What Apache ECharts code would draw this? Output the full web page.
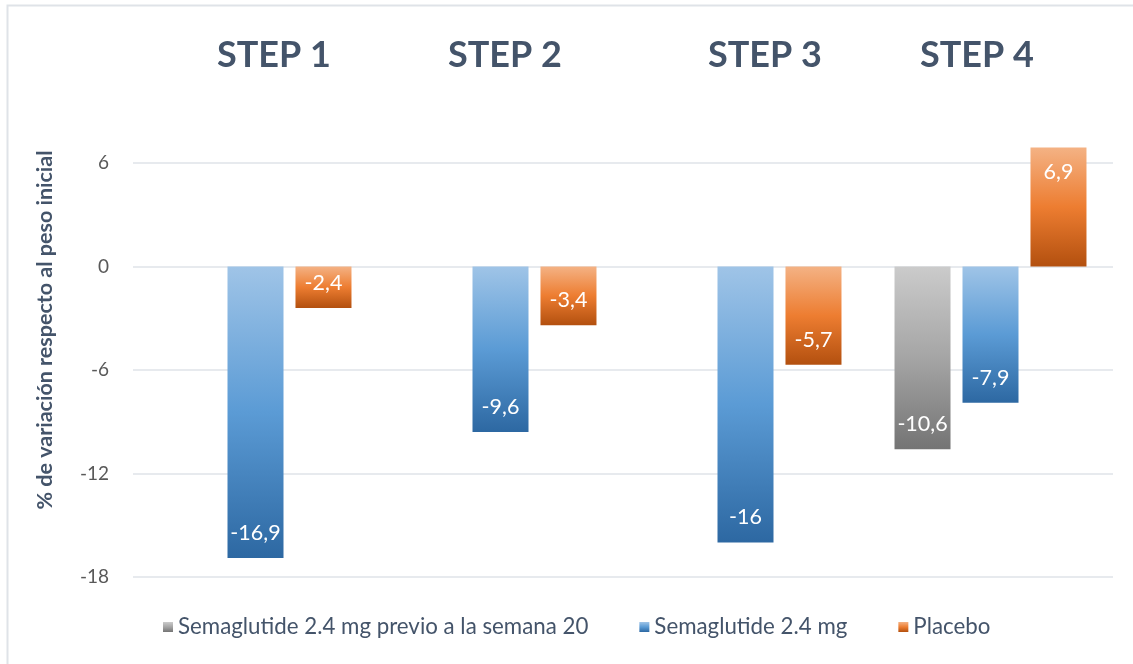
<!DOCTYPE html>
<html><head><meta charset="utf-8">
<script src="https://cdn.jsdelivr.net/npm/echarts@6/dist/echarts.min.js"></script>
<style>html,body{margin:0;padding:0;background:#fff}#c{width:1133px;height:664px}</style>
</head><body><div id="c"></div>
<script>
const categories = ['STEP 1', 'STEP 2', 'STEP 3', 'STEP 4'];
const seriesNames = ['Semaglutide 2.4 mg previo a la semana 20', 'Semaglutide 2.4 mg', 'Placebo'];
const grayValues = [null, null, null, -10.6];
const blueValues = [-16.9, -9.6, -16, -7.9];
const orangeValues = [-2.4, -3.4, -5.7, 6.9];
const yTicks = [-18, -12, -6, 0, 6];
const yAxisTitle = '% de variación respecto al peso inicial';

const FONT = 'Lato, "Liberation Sans", sans-serif';
function grad(stops) {
  return new echarts.graphic.LinearGradient(0, 0, 0, 1, stops.map((c, i) => ({offset: i / (stops.length - 1), color: c})));
}
const grayG = grad(['#cbcbcb', '#a5a5a5', '#747474']);
const blueG = grad(['#9fc4e7', '#5b9bd5', '#2d68a2']);
const orangeG = grad(['#f4b284', '#ed7d31', '#b3500f']);

function mkData(arr) {
  return arr.map(v => v == null ? null : {
    value: v,
    label: {position: v < 0 ? 'insideBottom' : 'insideTop'}
  });
}
const labelCfg = {
  show: true, color: '#ffffff', fontSize: 21.5, fontFamily: FONT, distance: 14,
  formatter: p => String(p.value).replace('.', ',')
};
const stepXs = [274, 505, 765, 977];
const chart = echarts.init(document.getElementById('c'), null, {renderer: 'canvas'});
chart.setOption({
  animation: false,
  backgroundColor: '#ffffff',
  grid: {left: 133, right: 20, top: 59.5, bottom: 87, containLabel: false},
  xAxis: {
    type: 'category', data: categories, position: 'bottom',
    axisLine: {show: false}, axisTick: {show: false}, axisLabel: {show: false}
  },
  yAxis: {
    type: 'value', min: -18, max: 12, interval: 6,
    axisLine: {show: false}, axisTick: {show: false},
    axisLabel: {
      fontFamily: FONT, fontSize: 19, color: '#595959', margin: 24,
      formatter: v => yTicks.indexOf(v) >= 0 ? String(v) : ''
    },
    splitLine: {lineStyle: {color: ['#dfe3e8', '#dfe3e8', '#dfe3e8', '#dfe3e8', '#dfe3e8', 'rgba(0,0,0,0)'], width: 1.5}}
  },
  legend: {
    bottom: 21, left: 158, itemWidth: 10, itemHeight: 10, itemGap: 51, icon: 'rect',
    textStyle: {fontFamily: FONT, fontSize: 22.3, color: '#44546a'},
    data: seriesNames
  },
  series: [
    {name: seriesNames[0], type: 'bar', data: mkData(grayValues), barWidth: 56, barGap: '21.4%', itemStyle: {color: grayG}, label: labelCfg},
    {name: seriesNames[1], type: 'bar', data: mkData(blueValues), barWidth: 56, barGap: '21.4%', itemStyle: {color: blueG}, label: labelCfg},
    {name: seriesNames[2], type: 'bar', data: mkData(orangeValues), barWidth: 56, barGap: '21.4%', itemStyle: {color: orangeG}, label: labelCfg}
  ],
  graphic: [
    {type: 'rect', shape: {x: 7.5, y: 5.5, width: 1140, height: 700}, style: {fill: 'none', stroke: '#dfe3e8', lineWidth: 2}, silent: true},
    {type: 'text', x: 45, y: 330, rotation: Math.PI / 2, style: {text: yAxisTitle, font: 'bold 21.5px ' + FONT, fill: '#44546a', textAlign: 'center', textVerticalAlign: 'middle'}},
    ...categories.map((c, i) => ({type: 'text', x: stepXs[i], y: 55, style: {text: c, font: 'bold 36px ' + FONT, fill: '#44546a', textAlign: 'center', textVerticalAlign: 'middle'}}))
  ]
});
</script></body></html>
